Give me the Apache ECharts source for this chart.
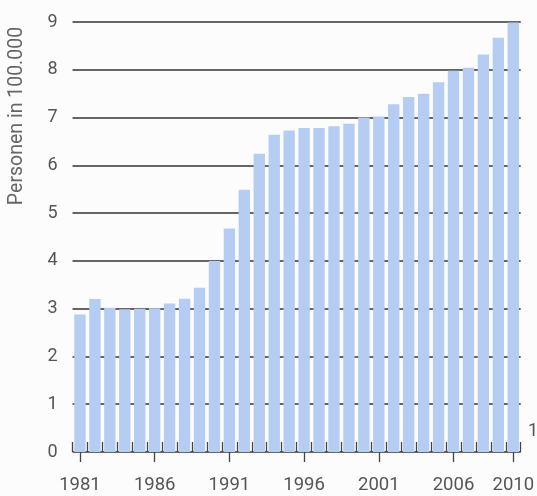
<!DOCTYPE html>
<html>
<head>
<meta charset="utf-8">
<script src="https://cdn.jsdelivr.net/npm/echarts@6/dist/echarts.min.js"></script>
<style>
html,body{margin:0;padding:0;background:#fcfcfc;}
#chart{width:537px;height:496px;}
</style>
</head>
<body>
<div id="chart"></div>
<script>
var years = ['1981','1982','1983','1984','1985','1986','1987','1988','1989','1990',
  '1991','1992','1993','1994','1995','1996','1997','1998','1999','2000',
  '2001','2002','2003','2004','2005','2006','2007','2008','2009','2010'];
var persons = [2.88,3.2,3.02,2.99,3.0,3.01,3.11,3.21,3.44,4.0,
  4.68,5.49,6.24,6.64,6.73,6.78,6.78,6.82,6.87,7.0,
  7.02,7.28,7.43,7.5,7.74,7.98,8.04,8.32,8.67,8.99];
var yTicks = [0,1,2,3,4,5,6,7,8,9];
var yAxisName = 'Personen in 100.000';
var labelIdx = function (i) { return i % 5 === 0 || i === years.length - 1; };

var chart = echarts.init(document.getElementById('chart'), null, {renderer:'canvas'});
var font = 'Roboto, "Open Sans", sans-serif';
chart.setOption({
  backgroundColor: '#fcfcfc',
  animation: false,
  grid: {left: 72.5, right: 12, top: 22, bottom: 44},
  xAxis: [{
    type: 'category', data: years, position: 'bottom',
    axisLine: {show: false},
    axisTick: {show: true, inside: true, length: 10, interval: 0, lineStyle: {color: '#444', width: 1.3}},
    axisLabel: {show: false},
    splitLine: {show: false}
  }, {
    type: 'category', data: years, position: 'bottom', gridIndex: 0,
    axisLine: {show: false},
    axisTick: {show: true, alignWithLabel: true, length: 10, interval: labelIdx, lineStyle: {color: '#444', width: 1.3}},
    axisLabel: {show: true, interval: labelIdx, margin: 24, color: '#555', fontSize: 18.5, fontFamily: font},
    splitLine: {show: false}
  }],
  yAxis: {
    type: 'value', min: yTicks[0], max: yTicks[yTicks.length - 1], interval: 1,
    axisLine: {show: false}, axisTick: {show: false},
    axisLabel: {margin: 15, color: '#555', fontSize: 18, fontFamily: font},
    splitLine: {show: true, lineStyle: {color: '#333', width: 1.6}}
  },
  graphic: [{
    type: 'text', x: 17, y: 116, rotation: Math.PI / 2,
    style: {text: yAxisName, fill: '#666', fontSize: 19.5, fontFamily: font, textAlign: 'center', textVerticalAlign: 'middle'}
  }, {
    type: 'text', x: 528, y: 431,
    style: {text: '1', fill: '#555', fontSize: 18, fontFamily: font, textAlign: 'left', textVerticalAlign: 'middle'}
  }],
  series: [{
    type: 'bar', data: persons, xAxisIndex: 0,
    barCategoryGap: '24%',
    itemStyle: {color: '#b5cdf2'}
  }]
});
</script>
</body>
</html>
